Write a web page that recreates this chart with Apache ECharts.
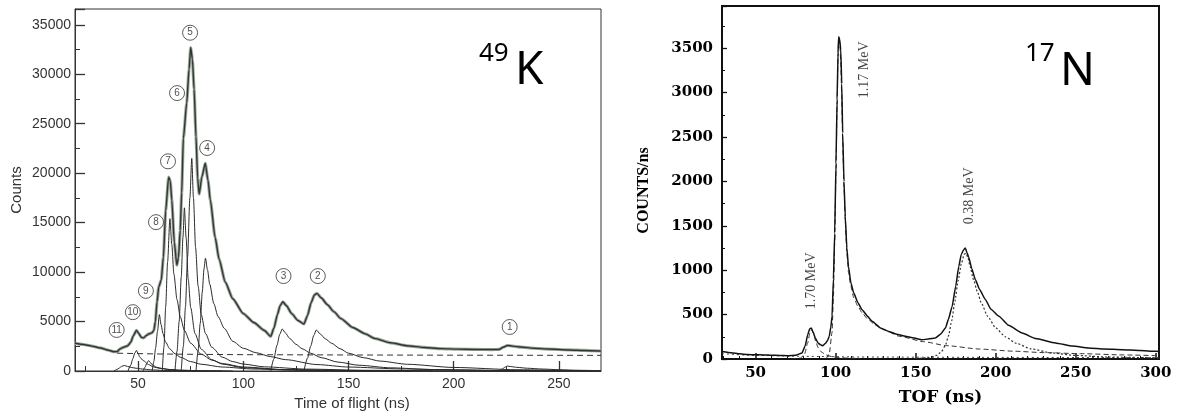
<!DOCTYPE html>
<html>
<head>
<meta charset="utf-8">
<script src="https://cdn.jsdelivr.net/npm/echarts@6/dist/echarts.min.js"></script>
<style>html,body{margin:0;padding:0;background:#fff}#c{width:1178px;height:416px}</style>
</head>
<body>
<div id="c"></div>
<script>
// ---------- 49K panel (left) ----------
const k49XTicks = [50, 100, 150, 200, 250];
const k49XMinorTicks = [25, 75, 125, 175, 225];
const k49Total = [[20,2800],[24,2680],[28,2520],[32,2330],[36,2100],[38.5,1950],[40,1960],[41.5,2250],[43,2400],[45,2550],[46.5,2900],[47.7,3550],[49.2,4100],[50.3,3800],[51.5,3400],[52.6,3350],[54,3600],[55,3750],[56.5,3850],[57.5,4100],[58.2,5000],[59,7000],[59.8,8500],[61,9200],[62,11500],[63.1,16200],[64.5,19600],[65.3,19200],[66,17300],[67.2,13000],[68.4,10700],[69.2,11500],[70,14200],[70.7,18000],[71.5,23500],[73.1,27100],[74.2,30500],[75,32700],[75.8,31500],[76.6,28500],[77.5,23700],[78.3,19500],[79,17900],[80.3,19600],[81.9,21000],[83.2,19300],[84.3,17300],[86.6,13500],[88.5,11300],[91.4,9000],[95,7300],[100,5800],[105,4900],[110,4100],[113,3500],[114.5,4300],[116.2,5700],[117.5,6600],[118.8,7000],[120.5,6600],[123,5800],[126,5100],[128.8,4750],[130.5,5600],[132.2,6900],[133.8,7700],[135,7850],[137,7400],[140,6700],[143,6000],[146.4,5300],[152,4400],[158,3750],[162.3,3300],[170,2850],[178,2550],[186,2380],[194,2260],[202,2210],[210,2180],[218,2170],[221.5,2180],[223.5,2400],[225.5,2580],[228,2520],[232,2420],[238,2300],[245,2220],[255,2130],[262,2080],[270,2020]];
const k49Background = [[40,1800],[50,1760],[60,1720],[80,1680],[100,1650],[150,1620],[200,1600],[270,1580]];
const k49Peak11 = [[38.5,0],[40,150],[41,300],[42.3,480],[43.4,560],[45,460],[47,350],[49,280],[52,200],[56,120],[62,60],[70,20],[80,0]];
const k49Peak10 = [[45.2,0],[46.5,600],[47.5,1250],[48.4,1800],[49.2,2080],[50,1750],[50.8,1400],[52.4,1060],[55,650],[57.2,420],[60,280],[65,150],[70,80],[80,30],[95,0]];
const k49Peak9 = [[52.4,0],[53.3,400],[54.2,800],[55,1060],[55.8,850],[57,580],[58.8,380],[61,260],[65,150],[70,70],[80,20],[90,0]];
const k49Peak8 = [[56.7,0],[57.5,1000],[58.3,2300],[59.2,4000],[60.1,5700],[60.9,4700],[61.8,3800],[63,2950],[65,2250],[67.5,1750],[70,1400],[75,950],[80,680],[90,400],[105,200],[130,70],[160,20],[190,0]];
const k49Peak7 = [[61.5,0],[62.3,2500],[63.1,6500],[64,11000],[65.1,15400],[66,12800],[67,9800],[68.5,7200],[70,5500],[72,4100],[75,2800],[80,1700],[85,1100],[90,750],[100,400],[120,140],[150,40],[180,0]];
const k49Peak6 = [[67.5,0],[68.5,2000],[69.5,5000],[70.5,9500],[71.3,13500],[72,16500],[72.8,13500],[73.8,9300],[75,6400],[77,3800],[80,2200],[85,1150],[90,700],[100,330],[120,120],[150,40],[180,0]];
const k49Peak5 = [[70.5,0],[71.5,2500],[72.5,6500],[73.5,11500],[74.6,17500],[75.5,21500],[76.3,17500],[77.3,12500],[78.5,8600],[80,5700],[82,3800],[85,2400],[90,1400],[95,950],[100,700],[110,420],[130,190],[160,70],[200,20],[230,0]];
const k49Peak4 = [[77.5,0],[78.5,2000],[79.5,4800],[80.5,8000],[81.3,10300],[82,11400],[83,10200],[84,8800],[86,6800],[88,5500],[91,4300],[95,3000],[100,2300],[106,1850],[113,1450],[120,1150],[135,650],[150,400],[175,210],[200,110],[230,45],[265,10]];
const k49Peak3 = [[113,0],[114.5,1200],[116,2600],[117.3,3700],[118.5,4250],[120,3850],[122,3300],[125,2700],[128,2250],[132,1800],[137,1350],[145,900],[155,580],[170,320],[190,150],[220,50],[250,10]];
const k49Peak2 = [[128.8,0],[130.5,1300],[132,2500],[133.5,3600],[134.7,4150],[136.5,3750],[139,3250],[142,2800],[146,2250],[150,1800],[157,1350],[165,1000],[178,680],[200,360],[230,130],[260,40],[270,25]];
const k49Peak1 = [[221.5,0],[223,200],[224.5,400],[225.5,500],[227,450],[230,370],[235,280],[242,200],[250,130],[260,70],[270,35]];
const k49PeakNames = ['1','2','3','4','5','6','7','8','9','10','11'];
const k49PeakLabelX = [226.6, 135.4, 119.1, 82.8, 74.7, 68.5, 64.2, 58.5, 53.7, 47.5, 39.8];
const k49PeakLabelY = [4450, 9600, 9600, 22550, 34200, 28100, 21200, 15050, 8100, 5950, 4150];

// ---------- 17N panel (right) ----------
const n17XTicks = [50, 100, 150, 200, 250, 300];
const n17XMinorTicks = [30, 40, 60, 70, 80, 90, 110, 120, 130, 140, 160, 170, 180, 190, 210, 220, 230, 240, 260, 270, 280, 290];
const n17Data = [[29,85],[35,70],[40,58],[45,50],[50,48],[55,46],[60,42],[65,40],[70,38],[75,42],[79,67],[81,150],[82.5,270],[83.8,340],[84.8,350],[86,300],[87.3,236],[89,180],[90.5,160],[92,150],[93.6,175],[95,210],[96,255],[97,360],[97.75,480],[98.6,900],[99.4,1418],[100.2,2200],[100.9,2918],[101.5,3450],[101.9,3630],[102.5,3600],[103.2,3480],[103.8,3100],[104.4,2542],[105.2,2000],[106,1605],[107,1250],[108,1042],[109.5,860],[111.3,742],[114,630],[116.5,555],[120,480],[122.75,424],[128,350],[133,311],[138,280],[143.6,255],[148,240],[154,217],[158,225],[162.3,236],[165.5,280],[168.6,349],[170.5,450],[172.75,592],[175,820],[176.9,1042],[178.5,1180],[180,1230],[181,1250],[182,1200],[183,1155],[185,1020],[187.3,892],[190,780],[193.6,667],[197,560],[202,480],[208,380],[216.5,292],[225,230],[237.3,180],[248,145],[258,124],[268,112],[279,105],[290,95],[300,86],[302,84]];
const n17Fit170 = [[72,0],[78,10],[80.5,50],[82.5,180],[84,300],[85,330],[86.2,290],[87.5,200],[89,130],[91,80],[94,45],[98,25],[105,12],[115,5]];
const n17Fit117 = [[94,0],[96,60],[97.75,300],[98.6,700],[99.4,1300],[100.2,2100],[100.9,2900],[101.5,3450],[101.9,3600],[102.6,3550],[103.2,3350],[103.8,2950],[104.4,2450],[105.2,1950],[106,1550],[107,1200],[108,980],[109.5,820],[111.3,690],[114,590],[116.5,520],[120,450],[125,380],[130,330],[140,255],[155,195],[169.4,150],[190,112],[211,88],[230,72],[253,60],[280,46],[302,37]];
const n17Fit038 = [[150,5],[158,15],[163,40],[166,80],[168.5,150],[170.5,260],[172.5,430],[174.5,650],[176.5,880],[178.5,1070],[180.3,1180],[181.3,1190],[182.5,1150],[184,1040],[186,900],[188.5,760],[191,630],[195,480],[200,350],[206,250],[213,175],[222,115],[235,68],[250,40],[270,22],[302,12]];
const n17Baseline = [[29,60],[50,40],[80,30],[120,22],[200,18],[302,15]];
const n17EnergyNames = ['1.70 MeV', '1.17 MeV', '0.38 MeV'];
const n17EnergyX = [84.6, 117.75, 183.4];
const n17EnergyY = [881, 3256, 1838];

const chart = echarts.init(document.getElementById('c'), null, {renderer: 'canvas'});

const sansFont = '"Liberation Sans", Arial, sans-serif';
const serifFont = '"Liberation Serif", "Times New Roman", serif';

function compLine(data) {
  return {type: 'line', xAxisIndex: 0, yAxisIndex: 0, data: data, showSymbol: false, symbol: 'none',
    smooth: 0.25, smoothMonotone: 'x', lineStyle: {color: '#2a2a2a', width: 1}, z: 3, silent: true};
}
function n17Line(data, type, width, color) {
  return {type: 'line', xAxisIndex: 2, yAxisIndex: 1, data: data, showSymbol: false, symbol: 'none',
    smooth: 0.2, smoothMonotone: 'x', lineStyle: {color: color, width: width, type: type}, z: 3, silent: true};
}

const option = {
  animation: false,
  backgroundColor: '#fff',
  grid: [
    {left: 75, top: 9, width: 526, height: 362, show: true, borderColor: '#333', borderWidth: 1, backgroundColor: 'transparent'},
    {left: 722, top: 6, width: 437, height: 353, show: true, borderColor: '#111', borderWidth: 2, backgroundColor: 'transparent'}
  ],
  xAxis: [
    {gridIndex: 0, type: 'value', min: 20, max: 270, position: 'bottom',
      axisLine: {show: true, onZero: false, lineStyle: {color: '#333', width: 1}},
      axisTick: {show: true, inside: true, length: 10, customValues: k49XTicks, lineStyle: {color: '#333', width: 1.3}},
      axisLabel: {show: true, customValues: k49XTicks, margin: 6, color: '#333', fontSize: 14, fontFamily: sansFont},
      splitLine: {show: false},
      name: 'Time of flight (ns)', nameLocation: 'middle', nameGap: 24,
      nameTextStyle: {color: '#333', fontSize: 15, fontFamily: sansFont, padding: [0, 0, 0, 28]}},
    {gridIndex: 0, type: 'value', min: 20, max: 270, position: 'bottom',
      axisLine: {show: false, onZero: false},
      axisTick: {show: true, inside: true, length: 5, customValues: k49XMinorTicks, lineStyle: {color: '#333', width: 1}},
      axisLabel: {show: false}, splitLine: {show: false}},
    {gridIndex: 1, type: 'value', min: 29, max: 302, position: 'bottom',
      axisLine: {show: true, onZero: false, lineStyle: {color: '#111', width: 2}},
      axisTick: {show: true, inside: true, length: 6, customValues: n17XTicks, lineStyle: {color: '#111', width: 1.5}},
      axisLabel: {show: true, customValues: n17XTicks, margin: 7, color: '#000', fontSize: 15, fontWeight: 'bold', fontFamily: '"DejaVu Serif", serif'},
      splitLine: {show: false},
      name: 'TOF (ns)', nameLocation: 'middle', nameGap: 30,
      nameTextStyle: {color: '#000', fontSize: 17, fontWeight: 'bold', fontFamily: '"DejaVu Serif", serif'}},
    {gridIndex: 1, type: 'value', min: 29, max: 302, position: 'bottom',
      axisLine: {show: false, onZero: false},
      axisTick: {show: true, inside: true, length: 3, customValues: n17XMinorTicks, lineStyle: {color: '#111', width: 1}},
      axisLabel: {show: false}, splitLine: {show: false}}
  ],
  yAxis: [
    {gridIndex: 0, type: 'value', min: 0, max: 36600, interval: 5000,
      axisLine: {show: true, onZero: false, lineStyle: {color: '#333', width: 1}},
      axisTick: {show: true, inside: true, length: 10, lineStyle: {color: '#333', width: 1.3}},
      minorTick: {show: true, splitNumber: 2, length: 5, lineStyle: {color: '#333', width: 1}},
      axisLabel: {show: true, margin: 4, color: '#333', fontSize: 14, fontFamily: sansFont,
        formatter: function (v) { return v <= 35000 ? String(v) : ''; }},
      splitLine: {show: false}, minorSplitLine: {show: false},
      name: 'Counts', nameLocation: 'middle', nameGap: 51, nameRotate: 90,
      nameTextStyle: {color: '#333', fontSize: 15, fontFamily: sansFont}},
    {gridIndex: 1, type: 'value', min: 0, max: 3975, interval: 500,
      axisLine: {show: true, onZero: false, lineStyle: {color: '#111', width: 2}},
      axisTick: {show: true, inside: true, length: 5, lineStyle: {color: '#111', width: 1.3}},
      minorTick: {show: true, splitNumber: 2, length: 3, lineStyle: {color: '#111', width: 1}},
      axisLabel: {show: true, margin: 9, color: '#000', fontSize: 15, fontWeight: 'bold', fontFamily: '"DejaVu Serif", serif',
        formatter: function (v) { return v <= 3500 ? String(v) : ''; }},
      splitLine: {show: false}, minorSplitLine: {show: false},
      name: 'COUNTS/ns', nameLocation: 'middle', nameGap: 70, nameRotate: 90,
      nameTextStyle: {color: '#000', fontSize: 16, fontWeight: 'bold', fontFamily: serifFont, padding: [0, 16, 0, 0]}}
  ],
  series: [
    // 49K measured data (gray) and fit (dark)
    {type: 'line', xAxisIndex: 0, yAxisIndex: 0, data: k49Total, showSymbol: false, symbol: 'none',
      smooth: 0.2, smoothMonotone: 'x', lineStyle: {color: '#a3a8a3', width: 3.2}, z: 2, silent: true},
    {type: 'line', xAxisIndex: 0, yAxisIndex: 0, data: k49Total, showSymbol: false, symbol: 'none',
      smooth: 0.2, smoothMonotone: 'x', lineStyle: {color: '#2e3a2e', width: 1.4}, z: 4, silent: true},
    {type: 'line', xAxisIndex: 0, yAxisIndex: 0, data: k49Background, showSymbol: false, symbol: 'none',
      lineStyle: {color: '#333', width: 1, type: [6, 4]}, z: 3, silent: true},
    compLine(k49Peak11), compLine(k49Peak10), compLine(k49Peak9), compLine(k49Peak8),
    compLine(k49Peak7), compLine(k49Peak6), compLine(k49Peak5), compLine(k49Peak4),
    compLine(k49Peak3), compLine(k49Peak2), compLine(k49Peak1),
    {type: 'scatter', xAxisIndex: 0, yAxisIndex: 0, symbol: 'circle', symbolSize: 15, z: 6, silent: true,
      itemStyle: {color: '#fff', borderColor: '#333', borderWidth: 1},
      label: {show: true, position: 'inside', formatter: '{b}', color: '#222', fontSize: 10, fontFamily: sansFont},
      data: k49PeakNames.map(function (n, i) { return {name: n, value: [k49PeakLabelX[i], k49PeakLabelY[i]]}; })},
    // 17N
    n17Line(n17Baseline, [2, 3], 1, '#444'),
    n17Line(n17Fit170, [5, 3], 1, '#333'),
    n17Line(n17Fit117, [5, 3], 1, '#333'),
    n17Line(n17Fit038, [2, 2], 1.2, '#333'),
    {type: 'line', xAxisIndex: 2, yAxisIndex: 1, data: n17Data, showSymbol: false, symbol: 'none',
      smooth: 0.15, smoothMonotone: 'x', lineStyle: {color: '#111', width: 1.5}, z: 4, silent: true},
    {type: 'scatter', xAxisIndex: 2, yAxisIndex: 1, symbolSize: 0, z: 6, silent: true,
      label: {show: true, position: 'inside', rotate: 90, formatter: '{b}', color: '#111', fontSize: 14, fontFamily: serifFont},
      data: n17EnergyNames.map(function (n, i) { return {name: n, value: [n17EnergyX[i], n17EnergyY[i]]}; })}
  ],
  graphic: [
    {type: 'text', left: 479, top: 41, style: {text: '49', font: '26px "Noto Sans"', fill: '#000'}},
    {type: 'text', left: 515, top: 48, style: {text: 'K', font: '46px "Noto Sans"', fill: '#000'}},
    {type: 'text', left: 1025, top: 41, style: {text: '17', font: '26px "Noto Sans"', fill: '#000'}},
    {type: 'text', left: 1060, top: 49, style: {text: 'N', font: '46px "Noto Sans"', fill: '#000'}}
  ]
};
chart.setOption(option);
</script>
</body>
</html>
